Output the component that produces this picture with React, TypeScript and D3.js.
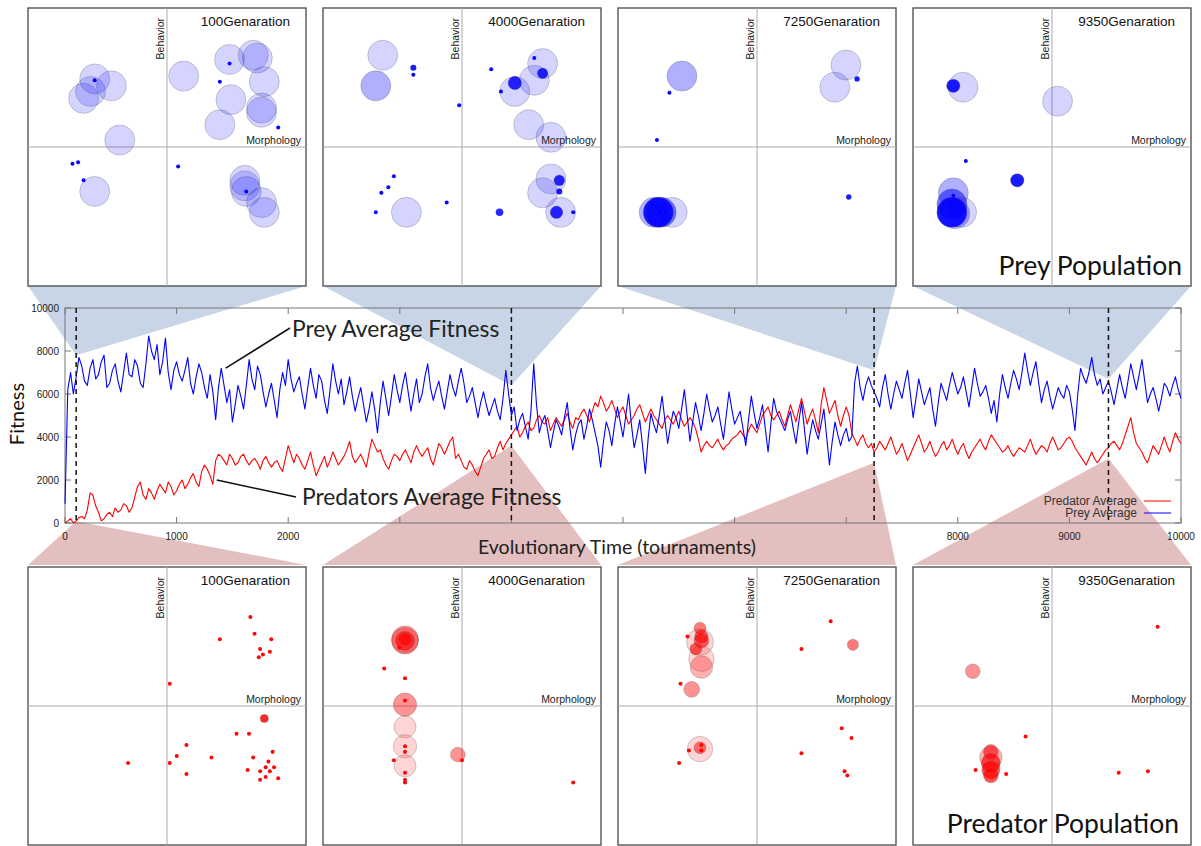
import React, { useEffect } from 'react';
import * as d3 from 'd3';

// ---------- main time series (sampled every 25 tournaments) ----------
const STEP = 25;
const preyFitness = [
  900, 6200, 7000, 6000, 6800, 7700, 7300, 6600, 6400, 7200, 7600, 6700, 6900, 7500, 7800, 6300, 6500, 7100, 7400, 6600,
  6100, 7000, 7900, 6900, 6800, 7600, 7300, 6500, 6300, 7400, 8700, 8000, 7600, 8300, 6900, 7500, 8600, 7000, 6200, 7100, 7500,
  6900, 6600, 7100, 7700, 6500, 6000, 6800, 7400, 7000, 6300, 5800, 6900, 6100, 4800, 6300, 7200, 6400, 5600, 6200, 4700,
  5500, 6400, 5900, 5300, 6400, 7600, 6700, 6200, 7300, 6900, 6100, 5400, 6000, 6500, 5700, 4900, 6200, 7000, 6400, 7600,
  6700, 6100, 6500, 6800, 6000, 5300, 6300, 7200, 6400, 5800, 6900, 6600, 5700, 5100, 6200, 7400, 6600, 6000, 6700, 5500,
  6100, 6800, 5900, 5200, 5800, 6300, 5500, 4700, 5300, 6100, 5300, 4200, 5600, 6600, 5800, 5000, 5900, 6900, 6200, 5600,
  6400, 7000, 6100, 5200, 6000, 6700, 5600, 6000, 6800, 7400, 6300, 5700, 6200, 6600, 5900, 5300, 6100, 6900, 6300, 5900,
  6600, 7200, 6500, 5600, 5900, 6300, 5600, 4900, 5600, 6100, 5500, 5000, 5400, 5800, 5200, 4800, 5800, 7100, 6000, 5000,
  5400, 4300, 4800, 5100, 4500, 3900, 5200, 7400, 5500, 4200, 4700, 5000, 4300, 3500, 4200, 4800, 4500, 4100, 4900, 5600,
  4400, 3400, 4100, 4600, 4800, 3900, 4500, 5300, 4800, 4200, 3600, 2600, 3800, 4700, 4300, 3600, 4600, 5400, 4700, 4000,
  5000, 6000, 4600, 3500, 4100, 4800, 3600, 2300, 3900, 5100, 4600, 4200, 5000, 5900, 4800, 3700, 4500, 5200, 4900, 4400,
  5300, 6200, 5000, 3800, 4700, 5600, 5000, 4300, 5100, 6000, 5300, 4700, 5000, 5400, 4600, 3900, 5000, 6100, 5300, 4600,
  4900, 5200, 4400, 3600, 4800, 5900, 5100, 4400, 4900, 5500, 4400, 3300, 4600, 5800, 5200, 4900, 4600, 4300, 4800, 5200,
  4400, 3700, 4700, 5600, 4400, 3200, 4100, 4800, 4300, 3900, 4600, 5300, 4000, 2700, 3800, 4700, 4100, 3600, 4100, 4400,
  3800, 4000, 6500, 7300, 6300, 5700, 6400, 6800, 6400, 6100, 5800, 5400, 6300, 6900, 6000, 5300, 6000, 6600, 6200, 5800,
  6500, 7100, 6000, 4900, 5800, 6700, 6100, 5500, 5900, 6300, 5300, 4500, 5600, 6500, 6100, 5700, 6400, 7000, 6500, 6000,
  6300, 6800, 6100, 5400, 6300, 7200, 6500, 5900, 6100, 6400, 5800, 5100, 5700, 4700, 6000, 6900, 6300, 5800, 6500, 7100,
  6700, 6200, 7000, 7900, 7100, 6400, 7000, 7500, 6500, 5600, 6200, 6600, 5900, 5300, 5800, 6300, 6000, 5800, 6400, 6100,
  5300, 4300, 6000, 7200, 6800, 6500, 7000, 7700, 6900, 6400, 6700, 6000, 6300, 6600, 6100, 5500, 6200, 6900, 6300, 5800,
  6600, 7400, 6800, 6200, 6900, 7600, 6600, 5600, 6000, 6300, 5800, 5200, 5800, 6500, 6300, 5900, 6400, 6800, 6200, 5800,
];
const predatorFitness = [
  0, 100, 200, 0, 100, 250, 300, 200, 600, 1400, 1300, 800, 500, 100, 200, 400, 500, 300, 700, 500,
  600, 900, 800, 500, 700, 1200, 1700, 1900, 1300, 1100, 1600, 1400, 1100, 1500, 1800, 1600, 1400, 1900, 1700, 1300, 1500,
  1800, 2000, 1600, 1800, 2100, 2300, 1900, 1700, 2400, 2700, 2500, 2200, 1800, 2900, 3200, 3100, 2900, 2700, 3200, 3000,
  2700, 2800, 3100, 3200, 2900, 2700, 2900, 3000, 2800, 2500, 2900, 3100, 2800, 2600, 2800, 2900, 2600, 2400, 3000, 3600,
  3200, 2800, 3200, 3000, 2700, 2500, 2900, 3300, 2700, 2200, 2500, 2800, 3100, 2600, 2900, 3300, 3000, 2700, 2900, 3100,
  3400, 3800, 3100, 2800, 3000, 3200, 2900, 2600, 3300, 3900, 3600, 3300, 3400, 3000, 2700, 2500, 2900, 3200, 3100, 2900,
  3200, 3400, 3100, 2800, 3300, 3600, 3300, 3100, 3300, 3500, 3000, 2700, 3200, 3700, 3500, 3200, 3500, 3800, 4000, 3000,
  3200, 2900, 2600, 2500, 2900, 2700, 2400, 2200, 2600, 3000, 3200, 3400, 3000, 3100, 3500, 3800, 3400, 3700, 3900, 4100,
  4300, 4500, 4000, 4200, 4500, 4700, 4300, 4400, 4800, 5000, 4700, 4600, 4900, 4300, 4600, 4900, 4700, 4500, 4800, 5100,
  4700, 4400, 4900, 4800, 5100, 5300, 5000, 4700, 5200, 5600, 5400, 5900, 5600, 5200, 5400, 5700, 5300, 4900, 5200, 5400,
  5000, 4600, 4800, 5000, 5300, 5500, 5100, 4700, 5000, 5300, 5000, 4800, 4600, 4400, 4800, 5000, 4800, 4600, 4900, 5200,
  4800, 4500, 4700, 4900, 4700, 4400, 3900, 3300, 3600, 3800, 3600, 3500, 3700, 3900, 3600, 3400, 3600, 3700, 3900, 4000,
  4100, 4300, 4100, 3900, 4300, 4600, 4400, 4200, 4600, 5000, 5200, 5400, 5000, 4800, 5000, 5200, 4800, 4500, 5000, 5500,
  5100, 4700, 5300, 5800, 5200, 4600, 5000, 5300, 4800, 4200, 5500, 6300, 5700, 5100, 5400, 5700, 5000, 4500, 5000, 5400,
  5000, 4200, 3900, 3600, 3900, 4100, 3700, 3500, 3700, 3300, 3500, 3800, 3600, 3400, 3700, 4000, 3600, 3200, 3400, 3700,
  3300, 2900, 3200, 3500, 3800, 4100, 3700, 3300, 3500, 3800, 3400, 3100, 3300, 3600, 3800, 3400, 3600, 3900, 3500, 3200,
  3500, 3700, 3300, 3000, 3300, 3500, 3700, 3900, 3600, 3400, 3800, 4100, 3900, 3700, 3500, 3300, 3400, 3600, 3300, 3100,
  3300, 3500, 3400, 3300, 3600, 3900, 3500, 3200, 3400, 3600, 3500, 3300, 3700, 4000, 3700, 3400, 3500, 3700, 3900, 4000,
  3800, 3500, 3300, 3100, 2900, 2700, 3000, 3300, 3000, 2800, 3000, 3200, 3400, 3500, 3700, 3800, 3600, 3400, 3700, 4100,
  4500, 4900, 4200, 3700, 3500, 3300, 3000, 2800, 3200, 3600, 3400, 3200, 3600, 4000, 3600, 3300, 3800, 4200, 3900, 3700,
];

const xTicks = [0, 1000, 2000, 3000, 4000, 5000, 6000, 7000, 8000, 9000, 10000];
const xTickLabels = [0, 1000, 2000, 8000, 9000, 10000];
const yTicks = [0, 2000, 4000, 6000, 8000, 10000];
const snapshotGenerations = [100, 4000, 7250, 9350];
const preyTipFitness = [7800, 6400, 7100, 6700];
const predatorTipFitness = [80, 3600, 2800, 3000];
const seriesNames = ['Predator Average', 'Prey Average'];

// ---------- population snapshots: [morphology, behavior, size, density] ----------
type Ind = [number, number, number, number];
const preyPanel100: Ind[] = [
  [-0.52, 0.49, 25, 1], [-0.40, 0.44, 25, 1], [-0.60, 0.35, 25, 1], [-0.55, 0.40, 25, 1], [-0.34, 0.05, 25, 1], [-0.52, -0.32, 25, 1],
  [0.12, 0.51, 25, 1], [0.45, 0.63, 25, 1], [0.62, 0.66, 25, 1], [0.65, 0.64, 25, 1], [0.70, 0.47, 25, 1], [0.46, 0.34, 25, 1],
  [0.38, 0.16, 25, 1], [0.68, 0.28, 25, 1], [0.68, 0.25, 25, 1],
  [0.56, -0.24, 25, 1], [0.57, -0.32, 25, 1], [0.56, -0.28, 25, 1], [0.68, -0.40, 25, 1], [0.70, -0.47, 25, 1],
  [-0.52, 0.48, 0.45, 20], [0.45, 0.60, 0.45, 20], [0.38, 0.47, 0.45, 20], [0.80, 0.14, 0.45, 20], [0.57, -0.32, 0.45, 20],
  [-0.60, -0.24, 0.45, 20], [-0.68, -0.12, 0.45, 20], [-0.64, -0.11, 0.45, 20], [0.08, -0.14, 0.45, 20],
];
const preyPanel4000: Ind[] = [
  [-0.57, 0.66, 25, 1], [-0.62, 0.44, 25, 2], [0.58, 0.60, 25, 1], [0.52, 0.48, 25, 1], [0.38, 0.40, 25, 1], [0.48, 0.16, 25, 1],
  [0.64, 0.07, 25, 1], [0.64, -0.23, 25, 1], [0.58, -0.33, 25, 1], [0.71, -0.47, 25, 1], [-0.40, -0.47, 25, 1],
  [0.58, 0.53, 3.1, 10], [0.38, 0.46, 5, 10], [0.70, -0.24, 3.2, 10], [0.27, -0.47, 1.6, 10], [0.68, -0.47, 4.4, 10],
  [0.70, -0.32, 1, 12], [-0.35, 0.57, 1, 12],
  [-0.35, 0.52, 0.45, 20], [-0.02, 0.30, 0.45, 20], [0.21, 0.56, 0.45, 20], [0.52, 0.64, 0.45, 20], [0.28, 0.40, 0.45, 20],
  [0.80, -0.47, 0.45, 20], [-0.49, -0.21, 0.45, 20], [-0.53, -0.29, 0.45, 20], [-0.58, -0.33, 0.45, 20], [-0.62, -0.47, 0.45, 20],
  [-0.11, -0.40, 0.45, 20],
];
const preyPanel7250: Ind[] = [
  [-0.54, 0.51, 25, 2], [0.64, 0.59, 25, 1], [0.56, 0.43, 25, 1],
  [-0.61, -0.47, 25, 1], [-0.74, -0.47, 25, 2], [-0.69, -0.47, 25, 4], [-0.71, -0.47, 25, 12],
  [0.72, 0.49, 0.8, 12], [0.66, -0.36, 0.8, 12],
  [-0.63, 0.39, 0.45, 20], [-0.72, 0.05, 0.45, 20],
  [-0.75, -0.41, 0.3, 20], [-0.72, -0.44, 0.3, 20], [-0.70, -0.47, 0.3, 20], [-0.66, -0.47, 0.3, 20],
];
const preyPanel9350: Ind[] = [
  [-0.64, 0.43, 25, 1], [0.04, 0.33, 25, 1],
  [-0.71, -0.33, 25, 2], [-0.72, -0.41, 25, 4], [-0.65, -0.47, 25, 1], [-0.70, -0.48, 25, 2], [-0.72, -0.47, 25, 12],
  [-0.71, 0.44, 5, 12], [-0.25, -0.24, 5, 12],
  [-0.62, -0.10, 0.45, 20], [-0.71, -0.35, 0.45, 20],
];
const predatorPanel100: Ind[] = [
  [0.70, -0.09, 1.8, 10],
  [0.60, 0.64, 0.45, 20], [0.63, 0.52, 0.45, 20], [0.75, 0.48, 0.45, 20], [0.38, 0.48, 0.45, 20], [0.67, 0.41, 0.45, 20],
  [0.69, 0.37, 0.45, 20], [0.66, 0.35, 0.45, 20], [0.74, 0.39, 0.45, 20], [0.02, 0.16, 0.45, 20], [0.50, -0.20, 0.45, 20],
  [0.59, -0.20, 0.45, 20], [0.14, -0.28, 0.45, 20], [0.07, -0.36, 0.45, 20], [0.02, -0.41, 0.45, 20], [0.32, -0.37, 0.45, 20],
  [-0.28, -0.41, 0.45, 20], [0.14, -0.49, 0.45, 20], [0.62, -0.37, 0.45, 20], [0.76, -0.33, 0.45, 20], [0.73, -0.40, 0.45, 20],
  [0.71, -0.44, 0.45, 20], [0.77, -0.44, 0.45, 20], [0.67, -0.47, 0.45, 20], [0.74, -0.47, 0.45, 20], [0.71, -0.51, 0.45, 20],
  [0.67, -0.53, 0.45, 20], [0.80, -0.52, 0.45, 20], [0.58, -0.46, 0.45, 20],
];
const predatorPanel4000: Ind[] = [
  [-0.41, 0.47, 20, 3], [-0.41, 0.48, 20, 2], [-0.41, 0.47, 10, 5], [-0.41, 0.48, 4, 6],
  [-0.41, 0.01, 15, 3], [-0.41, -0.15, 13.5, 1], [-0.41, -0.29, 15, 1], [-0.41, -0.43, 13.5, 1], [-0.03, -0.35, 6, 3],
  [-0.45, 0.42, 0.45, 20], [-0.56, 0.27, 0.45, 20], [-0.41, 0.20, 0.45, 20], [-0.41, 0.04, 0.45, 20], [-0.41, -0.29, 0.45, 20],
  [-0.41, -0.33, 0.45, 20], [-0.49, -0.39, 0.45, 20], [-0.41, -0.48, 0.45, 20], [-0.41, -0.53, 0.45, 20], [-0.41, -0.55, 0.45, 20],
  [0.00, -0.39, 0.45, 20], [0.80, -0.55, 0.45, 20],
];
const predatorPanel7250: Ind[] = [
  [-0.41, 0.46, 20, 1], [-0.40, 0.34, 18, 1], [-0.40, 0.28, 14, 2],
  [-0.41, 0.56, 4, 4], [-0.40, 0.50, 5, 5], [-0.40, 0.47, 6, 5], [-0.44, 0.41, 4, 5], [-0.47, 0.12, 7, 3],
  [-0.50, 0.50, 0.45, 20], [-0.55, 0.16, 0.45, 20],
  [-0.41, -0.31, 18, 1], [-0.41, -0.30, 4, 4],
  [-0.40, -0.28, 0.45, 20], [-0.40, -0.32, 0.45, 20], [-0.49, -0.32, 0.45, 20], [-0.56, -0.41, 0.45, 20],
  [0.53, 0.61, 0.45, 20], [0.32, 0.41, 0.45, 20], [0.69, 0.44, 3.5, 4],
  [0.61, -0.16, 0.45, 20], [0.68, -0.23, 0.45, 20], [0.32, -0.34, 0.45, 20], [0.63, -0.47, 0.45, 20], [0.65, -0.50, 0.45, 20],
];
const predatorPanel9350: Ind[] = [
  [-0.57, 0.25, 6, 3],
  [-0.44, -0.37, 14, 2], [-0.44, -0.33, 6, 5], [-0.44, -0.41, 10, 6], [-0.44, -0.46, 9, 6], [-0.44, -0.50, 6, 6],
  [-0.19, -0.22, 0.45, 20], [-0.55, -0.46, 0.45, 20], [-0.33, -0.49, 0.45, 20], [0.76, 0.57, 0.45, 20],
  [0.48, -0.48, 0.45, 20], [0.69, -0.47, 0.45, 20],
];
const preyPanels = [preyPanel100, preyPanel4000, preyPanel7250, preyPanel9350];
const predatorPanels = [predatorPanel100, predatorPanel4000, predatorPanel7250, predatorPanel9350];

// ---------- layout ----------
const W = 1201;
const H = 846;
const PL = 65, PR = 1181, PT = 308, PB = 523;
const PANEL_S = 278;
const panelLefts = [28, 323, 618, 913];
const TOP_Y = 8;
const BOT_Y = 567;
const BIG = "Lato, 'Open Sans', sans-serif";
const SMALL = "'Liberation Sans', Arial, sans-serif";

const x = d3.scaleLinear().domain([0, 10000]).range([PL, PR]);
const y = d3.scaleLinear().domain([0, 10000]).range([PB, PT]);
const rScale = d3.scaleSqrt().domain([0, 25]).range([0, 15]);
const alpha = (d: number) => 1 - Math.pow(1 - 0.17, d);

const lineGen = d3
  .line<number>()
  .x((_, i) => x(i * STEP))
  .y((v) => y(v));

function Panel({ L, T, data, color, gen }: { L: number; T: number; data: Ind[]; color: string; gen: number }) {
  const S = PANEL_S;
  const sx = d3.scaleLinear().domain([-1, 1]).range([L, L + S]);
  const sy = d3.scaleLinear().domain([-1, 1]).range([T + S, T]);
  const cx = sx(0);
  const cy = sy(0);
  return (
    <g>
      <rect x={L} y={T} width={S} height={S} fill="#fff" stroke="#555" strokeWidth={1.4} />
      <line x1={cx} x2={cx} y1={T} y2={T + S} stroke="#aaa" strokeWidth={1} />
      <line x1={L} x2={L + S} y1={cy} y2={cy} stroke="#aaa" strokeWidth={1} />
      {data.map((d, i) => {
        const r = rScale(d[2]);
        return (
          <circle
            key={i}
            cx={sx(d[0])}
            cy={sy(d[1])}
            r={r}
            fill={color}
            fillOpacity={alpha(d[3])}
            stroke={r > 4 ? '#555' : 'none'}
            strokeOpacity={0.35}
            strokeWidth={0.8}
          />
        );
      })}
      <text x={L + S - 16} y={T + 18} textAnchor="end" fontFamily={SMALL} fontSize={13.5} fill="#111">
        {gen}Genaration
      </text>
      <text
        transform={`translate(${cx - 3},${T + 10}) rotate(-90)`}
        textAnchor="end"
        fontFamily={SMALL}
        fontSize={10.5}
        fill="#222"
      >
        Behavior
      </text>
      <text x={L + S - 5} y={cy - 3} textAnchor="end" fontFamily={SMALL} fontSize={10.5} fill="#222">
        Morphology
      </text>
    </g>
  );
}

export default function App() {
  useEffect(() => {
    document.body.style.margin = '0';
  }, []);

  const topWedges = panelLefts.map((L, i) => [
    [L, TOP_Y + PANEL_S],
    [L + PANEL_S, TOP_Y + PANEL_S],
    [x(snapshotGenerations[i]), y(preyTipFitness[i])],
  ]);
  const botWedges = panelLefts.map((L, i) => [
    [L, BOT_Y - 2],
    [L + PANEL_S, BOT_Y - 2],
    [x(snapshotGenerations[i]), y(predatorTipFitness[i])],
  ]);

  return (
    <svg width={W} height={H} style={{ position: 'absolute', left: 0, top: 0, display: 'block' }}>
      <rect width={W} height={H} fill="#fff" />
      {topWedges.map((p, i) => (
        <polygon key={'tw' + i} points={p.map((q) => q.join(',')).join(' ')} fill="#c8d5e7" />
      ))}
      {botWedges.map((p, i) => (
        <polygon key={'bw' + i} points={p.map((q) => q.join(',')).join(' ')} fill="#e3bfbf" />
      ))}

      <rect x={PL} y={PT} width={PR - PL} height={PB - PT} fill="none" stroke="#777" strokeWidth={1} />
      {xTicks.map((t) => (
        <g key={'xt' + t}>
          <line x1={x(t)} x2={x(t)} y1={PB} y2={PB - 6} stroke="#777" />
          <line x1={x(t)} x2={x(t)} y1={PT} y2={PT + 6} stroke="#777" />
        </g>
      ))}
      {yTicks.map((t) => (
        <g key={'yt' + t}>
          <line x1={PL} x2={PL + 6} y1={y(t)} y2={y(t)} stroke="#777" />
          <line x1={PR} x2={PR - 6} y1={y(t)} y2={y(t)} stroke="#777" />
          <text x={PL - 6} y={y(t)} dy="0.35em" textAnchor="end" fontFamily={SMALL} fontSize={10} fill="#222">
            {t}
          </text>
        </g>
      ))}
      {xTickLabels.map((t) => (
        <text key={'xl' + t} x={x(t)} y={PB + 17} textAnchor="middle" fontFamily={SMALL} fontSize={10} fill="#222">
          {t}
        </text>
      ))}

      <path d={lineGen(predatorFitness) || ''} fill="none" stroke="#ff0000" strokeWidth={1.1} strokeLinejoin="round" />
      <path d={lineGen(preyFitness) || ''} fill="none" stroke="#0000ff" strokeWidth={1.1} strokeLinejoin="round" />

      {snapshotGenerations.map((g) => (
        <line key={'dl' + g} x1={x(g)} x2={x(g)} y1={PT} y2={PB} stroke="#111" strokeWidth={1.5} strokeDasharray="5,4" />
      ))}

      {seriesNames.map((n, i) => (
        <g key={n}>
          <text x={1137} y={505 + i * 12} textAnchor="end" fontFamily={SMALL} fontSize={12} fill="#333">
            {n}
          </text>
          <line x1={1144} x2={1171} y1={501 + i * 12} y2={501 + i * 12} stroke={i === 0 ? '#ff0000' : '#0000ff'} strokeWidth={1} />
        </g>
      ))}

      <line x1={x(1440)} y1={y(7200)} x2={290} y2={328} stroke="#111" strokeWidth={1.5} />
      <text x={292} y={337} fontFamily={BIG} fontSize={22.8} fill="#222">
        Prey Average Fitness
      </text>
      <line x1={x(1360)} y1={y(2000)} x2={296} y2={497} stroke="#111" strokeWidth={1.5} />
      <text x={302} y={505} fontFamily={BIG} fontSize={22.8} fill="#222">
        Predators Average Fitness
      </text>

      <text transform="translate(24,414) rotate(-90)" textAnchor="middle" fontFamily={BIG} fontSize={20} fill="#111">
        Fitness
      </text>
      <text x={617} y={554} textAnchor="middle" fontFamily={BIG} fontSize={19.5} fill="#222">
        Evolutionary Time (tournaments)
      </text>

      {panelLefts.map((L, i) => (
        <Panel key={'tp' + i} L={L} T={TOP_Y} data={preyPanels[i]} color="#0000ff" gen={snapshotGenerations[i]} />
      ))}
      {panelLefts.map((L, i) => (
        <Panel key={'bp' + i} L={L} T={BOT_Y} data={predatorPanels[i]} color="#ff0000" gen={snapshotGenerations[i]} />
      ))}

      <text x={1182} y={275} textAnchor="end" fontFamily={BIG} fontSize={26.5} fill="#111">
        Prey Population
      </text>
      <text x={1179} y={833} textAnchor="end" fontFamily={BIG} fontSize={26.5} fill="#111">
        Predator Population
      </text>
    </svg>
  );
}
